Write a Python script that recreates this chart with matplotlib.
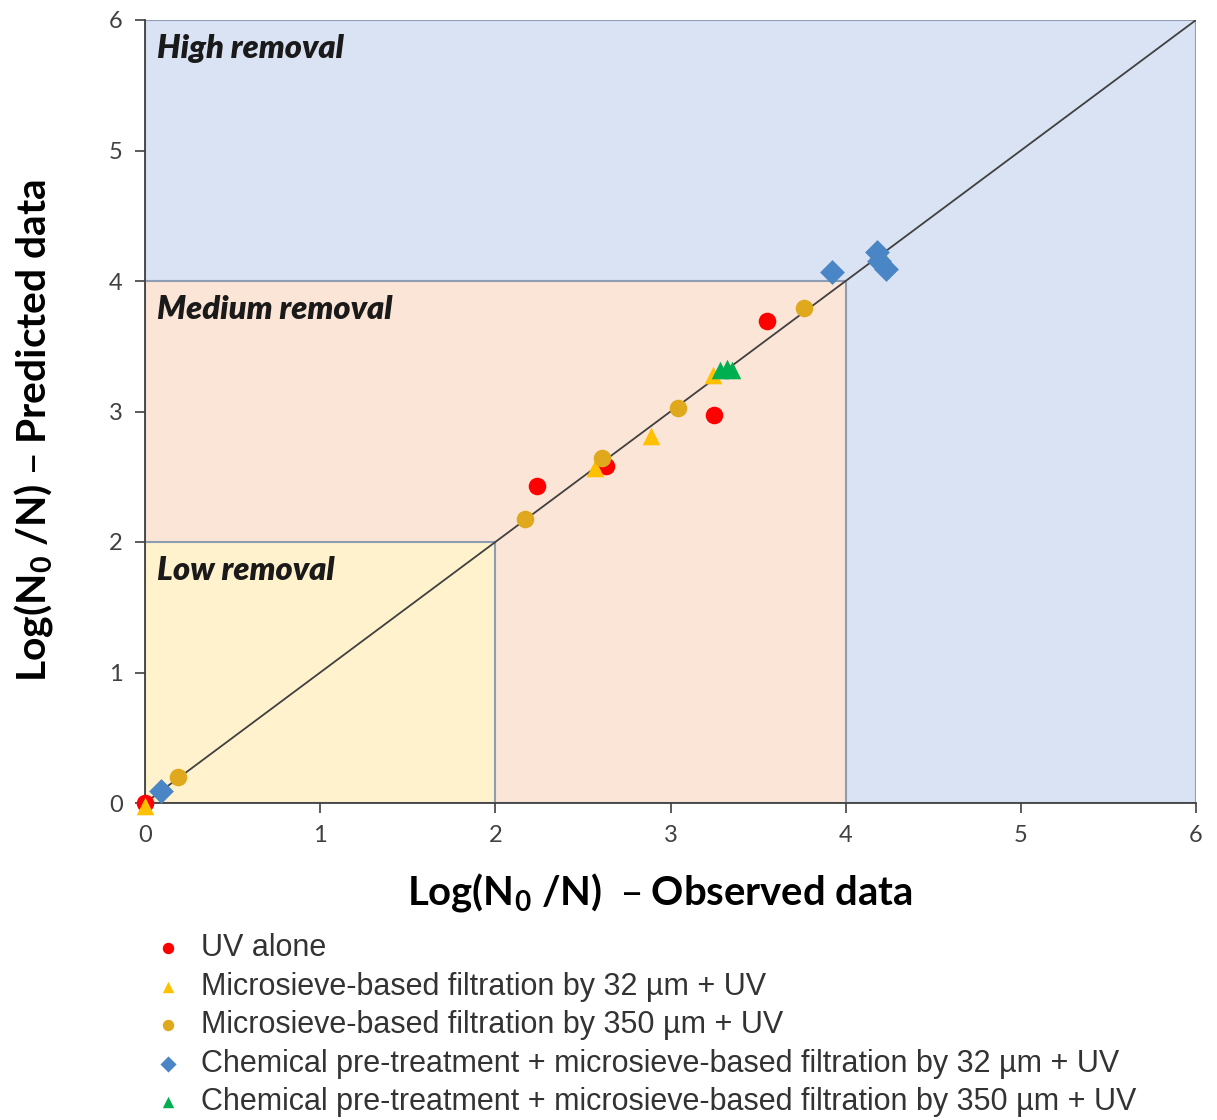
import numpy as np
from matplotlib import pyplot as plt
from matplotlib.patches import Rectangle

# data: observed (x) vs predicted (y) log removal
uv_x = [0.0, 2.24, 2.63, 3.25, 3.55]
uv_y = [0.0, 2.43, 2.58, 2.97, 3.69]

ms32_x = [0.0, 2.57, 2.89, 3.24, 4.22]
ms32_y = [-0.02, 2.57, 2.81, 3.28, 4.18]

ms350_x = [0.19, 2.17, 2.61, 3.04, 3.76]
ms350_y = [0.20, 2.18, 2.64, 3.03, 3.79]

ch32_x = [0.09, 3.92, 4.18, 4.19, 4.23]
ch32_y = [0.09, 4.07, 4.22, 4.15, 4.09]

ch350_x = [3.28, 3.32, 3.35]
ch350_y = [3.32, 3.33, 3.32]

labels = ["UV alone",
          "Microsieve-based filtration by 32 \u00b5m + UV",
          "Microsieve-based filtration by 350 \u00b5m + UV",
          "Chemical pre-treatment + microsieve-based filtration by 32 \u00b5m + UV",
          "Chemical pre-treatment + microsieve-based filtration by 350 \u00b5m + UV"]

region_names = ["High removal", "Medium removal", "Low removal"]
region_limits = [6, 4, 2]
region_colors = ["#dae3f3", "#fbe5d6", "#fff2cc"]

fig = plt.figure(figsize=(12.17, 11.2), dpi=100)
ax = fig.add_axes([145/1217, 1-803/1120, (1196-145)/1217, (803-20)/1120])
ax.set_xlim(0, 6)
ax.set_ylim(0, 6)

# shaded removal zones (largest first)
for name, lim, col in zip(region_names, region_limits, region_colors):
    ax.add_patch(Rectangle((0, 0), lim, lim, facecolor=col,
                           edgecolor="#8d9db4", linewidth=1.5, zorder=1))
    ax.text(0.07, lim - 0.11, name, fontsize=23.5, fontweight="heavy",
            fontstyle="italic", family="Lato", color="#1a1a1a",
            ha="left", va="top", zorder=2)

# 1:1 line
ax.plot([0, 6], [0, 6], color="#404040", linewidth=1.3, zorder=3)

s = 160
h1 = ax.scatter(uv_x, uv_y, s=s, marker="o", color="#ff0000", zorder=4, linewidths=0, clip_on=False)
h2 = ax.scatter(ms32_x, ms32_y, s=s, marker="^", color="#ffc000", zorder=5, linewidths=0, clip_on=False)
h3 = ax.scatter(ms350_x, ms350_y, s=s, marker="o", color="#e0a81c", zorder=5, linewidths=0, clip_on=False)
h4 = ax.scatter(ch32_x, ch32_y, s=s, marker="D", color="#4a86c5", zorder=6, linewidths=0, clip_on=False)
h5 = ax.scatter(ch350_x, ch350_y, s=s, marker="^", color="#00b050", zorder=6, linewidths=0, clip_on=False)

for side in ["top", "right"]:
    ax.spines[side].set_visible(False)
for side in ["left", "bottom"]:
    ax.spines[side].set_color("#404040")
    ax.spines[side].set_linewidth(1.3)
    ax.spines[side].set_zorder(3.5)

ax.set_xticks(range(7))
ax.set_yticks(range(7))
ax.tick_params(direction="out", length=7, width=1.2, color="#404040",
               labelsize=17, labelcolor="#404040", pad=9)
for t in ax.get_xticklabels() + ax.get_yticklabels():
    t.set_family("Lato")

ax.set_xlabel("Log(N$_\\mathregular{0}$ /N)  \u2013 Observed data", fontsize=28.8,
              fontweight="bold", family="Lato")
ax.set_ylabel("Log(N$_\\mathregular{0}$ /N) \u2013 Predicted data", fontsize=29.3,
              fontweight="bold", family="Lato")
ax.xaxis.set_label_coords(0.49, -0.087)
ax.yaxis.set_label_coords(-0.086, 0.476)

fig.legend([h1, h2, h3, h4, h5], labels, loc="upper left",
           bbox_to_anchor=(140/1217, 1-921/1120), frameon=False,
           prop={"family": "Liberation Sans", "size": 22},
           labelcolor="#333333",
           labelspacing=0.28, handletextpad=0.6, handlelength=1.0,
           markerscale=0.65, borderaxespad=0)

plt.savefig("out.png", dpi=100)
